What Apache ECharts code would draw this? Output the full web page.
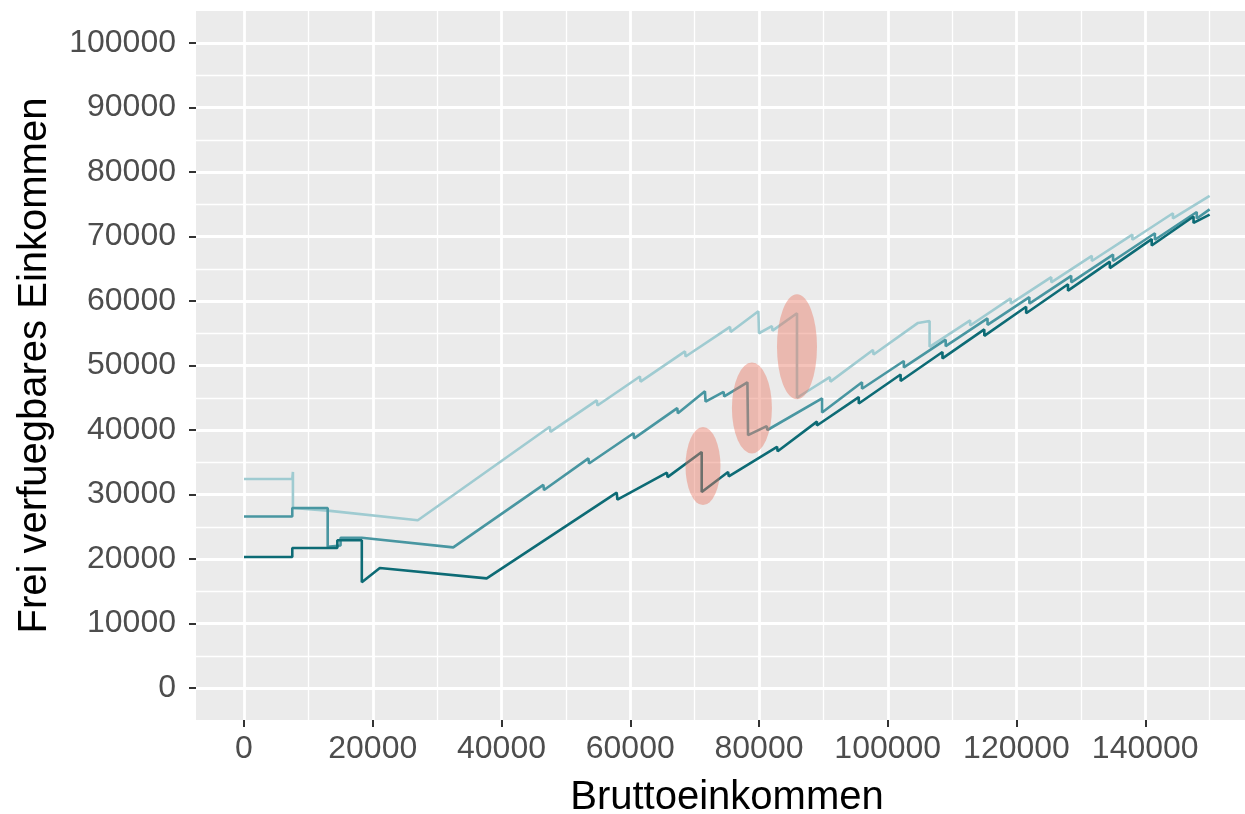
<!DOCTYPE html>
<html><head><meta charset="utf-8">
<script src="https://cdn.jsdelivr.net/npm/echarts@6/dist/echarts.min.js"></script>
<style>html,body{margin:0;padding:0;background:#fff}#c{width:1245px;height:814px}</style>
</head><body><div id="c"></div>
<script>
const xTitle = 'Bruttoeinkommen';
const yTitle = 'Frei verfuegbares Einkommen';
const xTickLabels = ['0','20000','40000','60000','80000','100000','120000','140000'];
const yTickLabels = ['0','10000','20000','30000','40000','50000','60000','70000','80000','90000','100000'];

const lightLine = [
  [0,32400],[7500,32400],[7600,33500],[7600,27900],[13000,27500],[27000,26000],
  [47500,40500],[47600,39700],[54800,44600],[54900,43800],[61500,48300],[61600,47500],
  [68500,52200],[68600,51400],[75500,56000],[75600,55200],[79900,58400],[80000,55000],
  [82000,56100],[82100,55400],[85900,58100],[85900,45000],[91000,48200],[91100,47500],
  [97700,52400],[97800,51700],[104700,56600],[106500,56900],[106500,52900],
  [112800,57000],[112800,56200],[119100,60400],[119100,59600],[125400,63700],[125400,62900],
  [131700,67000],[131700,66200],[138000,70300],[138000,69500],[144300,73600],[144300,72800],
  [150000,76300]
];
const mediumLine = [
  [0,26600],[7500,26600],[7500,27900],[13000,27900],[13000,21900],[15000,22100],[15000,23300],
  [18300,23300],[32500,21800],
  [46500,31500],[46600,30700],[53500,35600],[53600,34800],[60500,39500],[60600,38700],
  [67300,43400],[67400,42600],[71600,46000],[71700,44400],[74500,45900],[74600,45200],
  [78200,47400],[78300,39200],[81200,40600],[81300,40000],[89800,44900],[89800,42700],
  [96000,47400],[96000,46400],[102500,50700],[102500,49700],[109000,54000],[109000,53000],
  [115500,57300],[115500,56300],[122000,60600],[122000,59600],[128500,63900],[128500,62900],
  [135000,67200],[135000,66200],[141500,70500],[141500,69500],[148000,73800],[148000,72800],
  [150000,74200]
];
const darkLine = [
  [0,20300],[7500,20300],[7500,21700],[14500,21700],[14500,22900],[18300,22900],[18300,16400],
  [21100,18600],[37700,17000],
  [57900,30300],[58000,29200],[65700,33400],[65800,32700],[71100,36600],[71100,30400],
  [75200,33500],[75300,32800],[82800,37400],[82900,36700],[89000,41300],[89000,40700],
  [95500,45100],[95500,44100],[102000,48600],[102000,47600],[108500,52100],[108500,51100],
  [115000,55600],[115000,54600],[121500,59100],[121500,58100],[128000,62600],[128000,61600],
  [134500,66100],[134500,65100],[141000,69600],[141000,68600],[147500,73100],[147500,72100],
  [150000,73400]
];
const ellipseCenters = [[71300,34400],[78900,43400],[85900,52900]];

// styles
const ellipseSizes = [[35,78],[40,91],[40,105]];
const FONT = '"Liberation Sans", Arial, sans-serif';
const ellipsePath = 'path://M0,50 A50,50 0 1,1 100,50 A50,50 0 1,1 0,50 Z';

const chart = echarts.init(document.getElementById('c'), null, {renderer:'canvas'});
const bare = {axisLine:{show:false}, axisTick:{show:false}, axisLabel:{show:false}, splitLine:{show:false}};

chart.setOption({
  animation:false,
  backgroundColor:'#fff',
  textStyle:{fontFamily:FONT},
  grid:[
    {left:196, right:-13, top:11, bottom:94, show:true, backgroundColor:'#EBEBEB', borderWidth:0, outerBoundsMode:'none', containLabel:false},
    {left:244, right:-29, top:11, bottom:94, outerBoundsMode:'none', containLabel:false},
    {left:196, right:-13, top:43, bottom:126, outerBoundsMode:'none', containLabel:false},
    {left:244, right:-29, top:43, bottom:126, outerBoundsMode:'none', containLabel:false}
  ],
  xAxis:[
    Object.assign({gridIndex:0, type:'value', min:-7500, max:157500,
      name:xTitle, nameLocation:'middle', nameGap:58,
      nameTextStyle:{fontSize:40, color:'#000', fontFamily:FONT}}, bare),
    {gridIndex:1, type:'value', min:0, max:160000, interval:20000,
      axisLine:{show:false},
      axisTick:{show:true, length:7, lineStyle:{color:'#333', width:2}},
      axisLabel:{show:true, margin:13, fontSize:32, color:'#4D4D4D', fontFamily:FONT,
        formatter:v => xTickLabels.includes(String(v)) ? String(v) : ''},
      splitLine:{show:true, lineStyle:{color:'#fff', width:2.8}},
      minorTick:{show:false, splitNumber:2},
      minorSplitLine:{show:true, lineStyle:{color:'#fff', width:1.3}}},
    {gridIndex:2, type:'value', show:false, min:0, max:1},
    {gridIndex:3, type:'value', show:false, min:0, max:160000}
  ],
  yAxis:[
    Object.assign({gridIndex:0, type:'value', min:-5000, max:105000,
      name:yTitle, nameLocation:'middle', nameGap:141, nameRotate:90,
      nameTextStyle:{fontSize:40, color:'#000', fontFamily:FONT}}, bare),
    {gridIndex:1, type:'value', show:false, min:0, max:1},
    {gridIndex:2, type:'value', min:0, max:100000, interval:10000,
      axisLine:{show:false},
      axisTick:{show:true, length:7, lineStyle:{color:'#333', width:2}},
      axisLabel:{show:true, margin:20, fontSize:32, color:'#4D4D4D', fontFamily:FONT,
        formatter:v => yTickLabels.includes(String(v)) ? String(v) : ''},
      splitLine:{show:true, lineStyle:{color:'#fff', width:2.8}},
      minorTick:{show:false, splitNumber:2},
      minorSplitLine:{show:true, lineStyle:{color:'#fff', width:1.3}}},
    {gridIndex:3, type:'value', show:false, min:0, max:100000}
  ],
  series:[
    {type:'line', xAxisIndex:3, yAxisIndex:3, data:lightLine, showSymbol:false, symbol:'none',
      lineStyle:{color:'#9FCBD1', width:2.6}, z:3, silent:true},
    {type:'line', xAxisIndex:3, yAxisIndex:3, data:mediumLine, showSymbol:false, symbol:'none',
      lineStyle:{color:'#4896A1', width:2.6}, z:4, silent:true},
    {type:'line', xAxisIndex:3, yAxisIndex:3, data:darkLine, showSymbol:false, symbol:'none',
      lineStyle:{color:'#0D6B75', width:2.6}, z:5, silent:true},
    {type:'scatter', xAxisIndex:3, yAxisIndex:3, data:ellipseCenters, symbol:ellipsePath,
      symbolSize:(v, p) => ellipseSizes[p.dataIndex], symbolKeepAspect:false,
      itemStyle:{color:'rgba(232,118,98,0.55)'}, z:10, silent:true, clip:false}
  ]
});
</script></body></html>
